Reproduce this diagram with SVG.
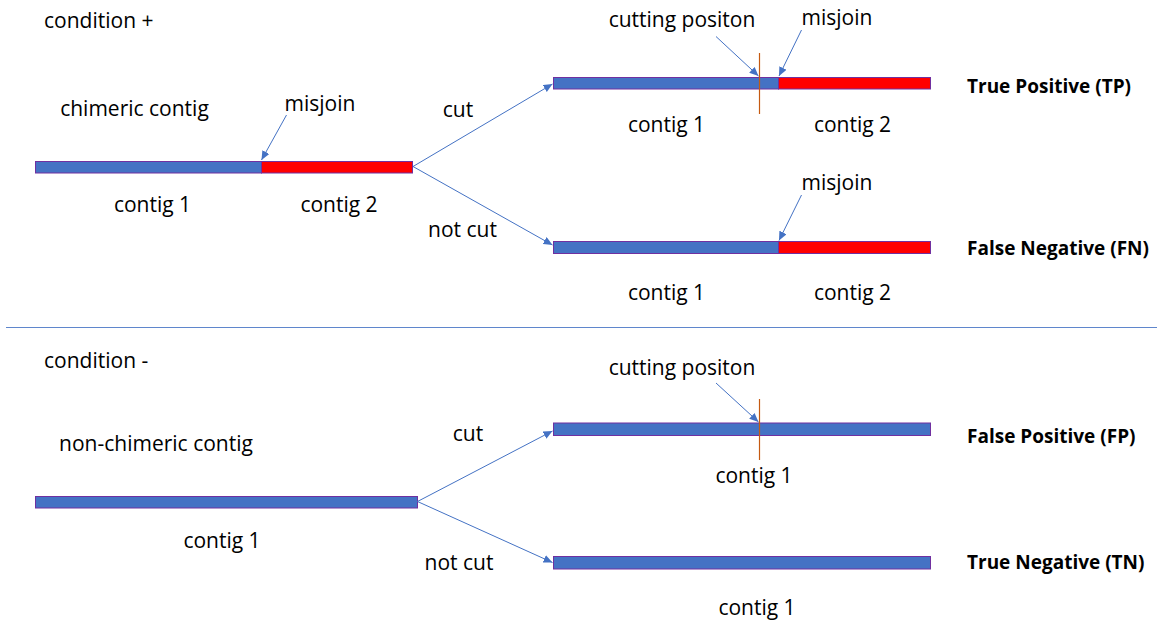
<svg xmlns="http://www.w3.org/2000/svg" width="1158" height="624" viewBox="0 0 1158 624">
  <style>
    .t { font-family: "Open Sans", "Noto Sans", "Liberation Sans", sans-serif; font-size: 21px; fill: #000; }
    .c { text-anchor: middle; }
    .b { font-weight: bold; font-size: 19px; }
    .blue { fill: #4472C4; stroke: #7030A0; stroke-width: 1; }
    .red { fill: #FF0000; stroke: #7030A0; stroke-width: 1; }
    .cutline { stroke: #C55A11; stroke-width: 1.2; }
    .link { stroke: #4472C4; stroke-width: 1; fill: none; marker-end: url(#arrow); }
    .sep { stroke: #4472C4; stroke-width: 1; opacity: 0.85; }
  </style>
  <defs>
    <marker id="arrow" markerUnits="userSpaceOnUse" markerWidth="10" markerHeight="8" refX="9" refY="4" orient="auto">
      <path d="M0,0 L9,4 L0,8 Z" fill="#4472C4"/>
    </marker>
  </defs>
  <rect width="1158" height="624" fill="#fff"/>

  <!-- section headings -->
  <text class="t" x="44" y="28">condition +</text>
  <text class="t" x="44" y="368">condition -</text>
  <line class="sep" x1="6" y1="327.5" x2="1157" y2="327.5"/>

  <!-- chimeric input contig -->
  <g id="chimeric">
    <rect class="blue" x="35.5" y="161.5" width="226" height="11.5"/>
    <rect class="red" x="261.5" y="161.5" width="151" height="11.5"/>
    <text class="t c" x="134.5" y="116">chimeric contig</text>
    <text class="t c" x="320" y="111">misjoin</text>
    <text class="t c" x="152.5" y="212">contig 1</text>
    <text class="t c" x="339" y="212">contig 2</text>
  </g>

  <!-- cut result: true positive -->
  <g id="tp">
    <rect class="blue" x="553.5" y="77.5" width="225" height="11.5"/>
    <rect class="red" x="778.5" y="77.5" width="152" height="11.5"/>
    <line class="cutline" x1="759.5" y1="53" x2="759.5" y2="114"/>
    <text class="t c" x="682" y="27">cutting positon</text>
    <text class="t c" x="837" y="25">misjoin</text>
    <text class="t c" x="666.5" y="132">contig 1</text>
    <text class="t c" x="852.5" y="132">contig 2</text>
    <text class="t b" x="967" y="93">True Positive (TP)</text>
  </g>

  <!-- not cut result: false negative -->
  <g id="fn">
    <rect class="blue" x="553.5" y="241.5" width="225" height="12"/>
    <rect class="red" x="778.5" y="241.5" width="152" height="12"/>
    <text class="t c" x="837" y="190">misjoin</text>
    <text class="t c" x="666.5" y="300">contig 1</text>
    <text class="t c" x="852.5" y="300">contig 2</text>
    <text class="t b" x="967" y="255">False Negative (FN)</text>
  </g>

  <!-- non-chimeric input contig -->
  <g id="nonchimeric">
    <rect class="blue" x="35.5" y="496.5" width="382" height="11.5"/>
    <text class="t c" x="156" y="451">non-chimeric contig</text>
    <text class="t c" x="222" y="548">contig 1</text>
  </g>

  <!-- cut result: false positive -->
  <g id="fp">
    <rect class="blue" x="553.5" y="423" width="377" height="12.5"/>
    <line class="cutline" x1="759.5" y1="399" x2="759.5" y2="460"/>
    <text class="t c" x="682" y="375">cutting positon</text>
    <text class="t c" x="754" y="483">contig 1</text>
    <text class="t b" x="967" y="443">False Positive (FP)</text>
  </g>

  <!-- not cut result: true negative -->
  <g id="tn">
    <rect class="blue" x="553.5" y="556.5" width="377" height="12.5"/>
    <text class="t c" x="757" y="615">contig 1</text>
    <text class="t b" x="967" y="569">True Negative (TN)</text>
  </g>

  <!-- connectors -->
  <g id="connectors">
    <path class="link" d="M413,166.5 L552.5,84"/>
    <path class="link" d="M413,166.5 L552.5,245"/>
    <path class="link" d="M417.5,501.5 L552.5,431"/>
    <path class="link" d="M417.5,501.5 L552.5,562.5"/>
    <path class="link" d="M286.5,115 L261.5,160"/>
    <path class="link" d="M801.5,30 L779,76"/>
    <path class="link" d="M716,36.5 L758.5,76"/>
    <path class="link" d="M801.5,195 L779,240.5"/>
    <path class="link" d="M716,383 L758.5,422"/>
    <text class="t c" x="458" y="117">cut</text>
    <text class="t c" x="462.5" y="237">not cut</text>
    <text class="t c" x="468" y="441">cut</text>
    <text class="t c" x="459" y="570">not cut</text>
  </g>
</svg>
